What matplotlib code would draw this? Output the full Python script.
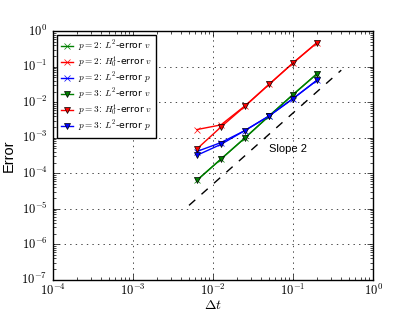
import matplotlib
matplotlib.use("Agg")
import matplotlib.pyplot as plt
from matplotlib.ticker import FuncFormatter, NullFormatter
import numpy as np

# time steps
dt = [0.2, 0.1, 0.05, 0.025, 0.0125, 0.00625]

# p = 2
err_l2_v_p2 = [0.064, 0.0165, 0.0041, 0.00099, 0.00025, 0.000063]
err_h1_v_p2 = [0.48, 0.128, 0.032, 0.0079, 0.0023, 0.0017]
err_l2_p_p2 = [0.042, 0.0127, 0.0041, 0.0016, 0.00073, 0.00041]

# p = 3
err_l2_v_p3 = [0.064, 0.0165, 0.0041, 0.00099, 0.00025, 0.000063]
err_h1_v_p3 = [0.48, 0.128, 0.0316, 0.0077, 0.0020, 0.00048]
err_l2_p_p3 = [0.042, 0.0127, 0.0041, 0.0016, 0.00065, 0.00032]

# reference line of slope 2
slope_x = [0.005, 0.4]
slope_y = [1.25e-5, 0.08]

plt.style.use("classic")
plt.rcParams["mathtext.fontset"] = "cm"
plt.rcParams["font.size"] = 10

fig = plt.figure(figsize=(4.15, 3.12), dpi=100)
ax = fig.add_subplot(111)

ax.loglog(dt, err_l2_v_p2, "gx-", markersize=4, label=r"$p=2$: $L^2$-error $v$")
ax.loglog(dt, err_h1_v_p2, "rx-", markersize=4, label=r"$p=2$: $H^1_0$-error $v$")
ax.loglog(dt, err_l2_p_p2, "bx-", markersize=4, label=r"$p=2$: $L^2$-error $p$")
ax.loglog(dt, err_l2_v_p3, "gv-", markersize=4, label=r"$p=3$: $L^2$-error $v$")
ax.loglog(dt, err_h1_v_p3, "rv-", markersize=4, label=r"$p=3$: $H^1_0$-error $v$")
ax.loglog(dt, err_l2_p_p3, "bv-", markersize=4, label=r"$p=3$: $L^2$-error $p$")
ax.loglog(slope_x, slope_y, "k--")
ax.text(0.05, 3.9e-4, "Slope 2", fontsize=8, family="Liberation Sans")

ax.set_xlim(1e-4, 1)
ax.set_ylim(1e-7, 1)

def fmt(v, pos):
    return r"$10^{%d}$" % int(round(np.log10(v)))

ax.xaxis.set_major_formatter(FuncFormatter(fmt))
ax.yaxis.set_major_formatter(FuncFormatter(fmt))
ax.xaxis.set_minor_formatter(NullFormatter())
ax.yaxis.set_minor_formatter(NullFormatter())
ax.tick_params(labelsize=9)
ax.tick_params(axis="x", pad=2)

ax.set_xlabel(r"$\Delta t$", fontsize=10, labelpad=0)
ax.set_ylabel("Error", family="Liberation Sans", fontsize=10.5, labelpad=4)
ax.grid(True)
ax.legend(loc="upper left", fontsize=6.7, numpoints=1, handlelength=1.3,
          labelspacing=0.05, handletextpad=0.6, borderaxespad=0.4)

fig.subplots_adjust(left=0.128, right=0.899, bottom=0.103, top=0.9)
fig.savefig("out.png", dpi=100)
